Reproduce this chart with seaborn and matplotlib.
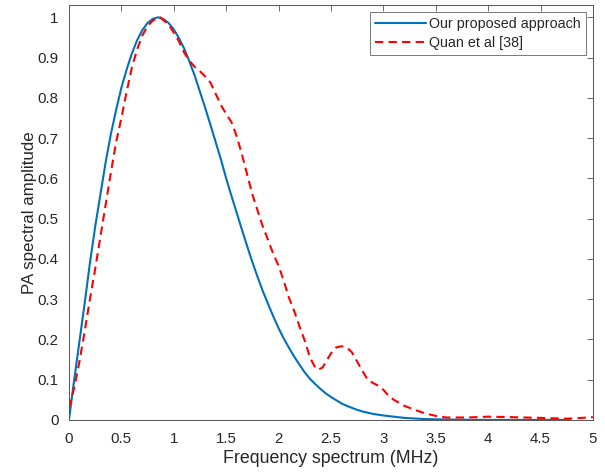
import matplotlib
matplotlib.use("Agg")
import matplotlib.pyplot as plt
import seaborn as sns
import pandas as pd

# Spectrum of the proposed approach (frequency in MHz, normalized amplitude)
freq_ours = [0, 0.05, 0.1, 0.15, 0.2, 0.25, 0.3, 0.35, 0.4, 0.45, 0.5, 0.55,
             0.6, 0.65, 0.7, 0.75, 0.8, 0.85, 0.9, 0.95, 1.0, 1.05, 1.1, 1.15,
             1.2, 1.25, 1.3, 1.35, 1.4, 1.45, 1.5, 1.55, 1.6, 1.65, 1.7, 1.75,
             1.8, 1.85, 1.9, 1.95, 2.0, 2.05, 2.1, 2.15, 2.2, 2.25, 2.3, 2.35,
             2.4, 2.45, 2.5, 2.55, 2.6, 2.65, 2.7, 2.75, 2.8, 2.85, 2.9, 3.0,
             3.2, 3.4, 3.6, 3.8, 4.0, 4.4, 4.78]
amp_ours = [0, 0.10, 0.195, 0.29, 0.39, 0.48, 0.56, 0.64, 0.71, 0.77, 0.825,
            0.87, 0.91, 0.943, 0.968, 0.986, 0.996, 1.0, 0.996, 0.986, 0.97,
            0.948, 0.922, 0.89, 0.855, 0.815, 0.775, 0.733, 0.69, 0.647, 0.60,
            0.557, 0.515, 0.473, 0.432, 0.392, 0.355, 0.32, 0.288, 0.257,
            0.228, 0.202, 0.179, 0.157, 0.137, 0.118, 0.102, 0.089, 0.077,
            0.066, 0.057, 0.049, 0.041, 0.035, 0.03, 0.025, 0.021, 0.018,
            0.015, 0.011, 0.005, 0.002, 0.001, 0.0003, 0.0001, 0, 0]

# Spectrum reported by Quan et al [38]
freq_quan = [0, 0.05, 0.1, 0.15, 0.2, 0.25, 0.3, 0.35, 0.4, 0.45, 0.5, 0.55,
             0.6, 0.65, 0.7, 0.75, 0.8, 0.87, 0.95, 1.0, 1.05, 1.1, 1.15, 1.2,
             1.25, 1.3, 1.35, 1.4, 1.45, 1.5, 1.55, 1.6, 1.65, 1.7, 1.75, 1.8,
             1.85, 1.9, 1.95, 2.0, 2.05, 2.1, 2.15, 2.2, 2.25, 2.3, 2.35, 2.38,
             2.42, 2.46, 2.5, 2.55, 2.6, 2.65, 2.7, 2.75, 2.8, 2.85, 2.9, 2.95,
             3.0, 3.05, 3.1, 3.2, 3.3, 3.4, 3.5, 3.6, 3.8, 4.0, 4.2, 4.5, 4.75,
             4.9, 5.0]
amp_quan = [0.03, 0.08, 0.145, 0.22, 0.30, 0.375, 0.455, 0.535, 0.615, 0.69,
            0.75, 0.815, 0.875, 0.92, 0.955, 0.978, 0.992, 1.0, 0.982, 0.962,
            0.94, 0.912, 0.892, 0.877, 0.866, 0.853, 0.838, 0.81, 0.782, 0.76,
            0.74, 0.705, 0.66, 0.61, 0.56, 0.52, 0.48, 0.447, 0.412, 0.383,
            0.345, 0.303, 0.27, 0.232, 0.197, 0.155, 0.13, 0.125, 0.13, 0.148,
            0.165, 0.18, 0.183, 0.18, 0.168, 0.145, 0.122, 0.10, 0.092, 0.085,
            0.075, 0.06, 0.05, 0.035, 0.025, 0.016, 0.01, 0.006, 0.006, 0.008,
            0.007, 0.005, 0.003, 0.005, 0.007]

label_ours = "Our proposed approach"
label_quan = "Quan et al [38]"
x_ticks = [0, 0.5, 1, 1.5, 2, 2.5, 3, 3.5, 4, 4.5, 5]
x_tick_labels = ["0", "0.5", "1", "1.5", "2", "2.5", "3", "3.5", "4", "4.5", "5"]
y_ticks = [0, 0.1, 0.2, 0.3, 0.4, 0.5, 0.6, 0.7, 0.8, 0.9, 1]
y_tick_labels = ["0", "0.1", "0.2", "0.3", "0.4", "0.5", "0.6", "0.7", "0.8", "0.9", "1"]

df = pd.concat([
    pd.DataFrame({"freq": freq_ours, "amp": amp_ours, "method": label_ours}),
    pd.DataFrame({"freq": freq_quan, "amp": amp_quan, "method": label_quan}),
])

sns.set_theme(style="white")
plt.rcParams["font.family"] = ["Liberation Sans", "DejaVu Sans"]
text_color = "#262626"
frame_color = "#555555"

fig = plt.figure(figsize=(6.05, 4.75), dpi=100)
ax = fig.add_axes([0.114, 0.116, 0.866, 0.873])

sns.lineplot(data=df, x="freq", y="amp", hue="method", style="method",
             palette={label_ours: "#0072BD", label_quan: "#FF0000"},
             dashes={label_ours: "", label_quan: (4, 2.5)},
             estimator=None, sort=False, linewidth=1.5, ax=ax)

ax.set_xlim(0, 5)
ax.set_ylim(0, 1.03)
ax.set_xticks(x_ticks)
ax.set_xticklabels(x_tick_labels)
ax.set_yticks(y_ticks)
ax.set_yticklabels(y_tick_labels)
ax.tick_params(direction="in", length=4, width=0.6, top=True, right=True,
               labelsize=10.8, colors=frame_color, labelcolor=text_color)
ax.tick_params(axis="x", pad=8.5)
ax.tick_params(axis="y", pad=7.5)
for s in ax.spines.values():
    s.set_visible(True)
    s.set_color(frame_color)
    s.set_linewidth(0.7)

ax.set_xlabel("Frequency spectrum (MHz)", fontsize=12.8, color=text_color, labelpad=3)
ax.set_ylabel("PA spectral amplitude", fontsize=12.2, color=text_color, labelpad=0)

leg = ax.legend(loc="upper right", fontsize=10.3, handlelength=3.6,
                frameon=True, fancybox=False, borderpad=0.35,
                labelspacing=0.3, handletextpad=0.2, borderaxespad=0.5)
leg.get_frame().set_edgecolor(frame_color)
leg.get_frame().set_linewidth(0.7)
for t in leg.get_texts():
    t.set_color(text_color)

fig.savefig("out.png", dpi=100)
